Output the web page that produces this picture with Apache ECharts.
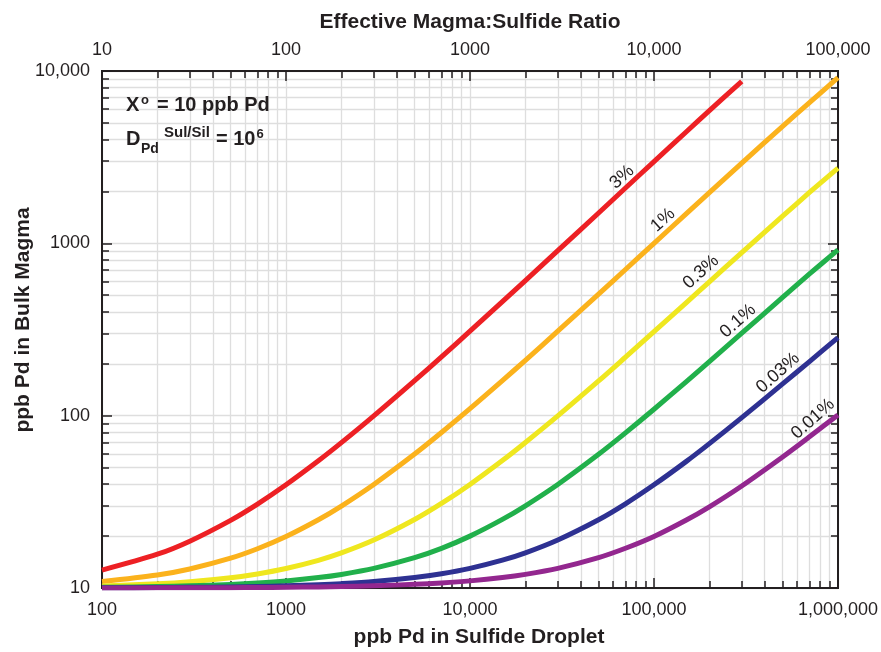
<!DOCTYPE html>
<html><head><meta charset="utf-8">
<script src="https://cdn.jsdelivr.net/npm/echarts@6/dist/echarts.min.js"></script>
<style>html,body{margin:0;padding:0;background:#fff}#c{width:881px;height:652px}</style>
</head><body><div id="c"></div>
<script>
// ---- data ----
const dropletPpb = [100,200,300,500,700,1000,1500,2000,3000,5000,7000,10000,15000,20000,30000,50000,70000,100000,150000,200000,300000,500000,700000,1000000];
const bulk3pct   = [12.7,15.7,18.7,24.7,30.7,39.7,54.7,69.7,99.7,159.7,219.5,309,459,608,907,1500,2095,2980,4440,5890,8700];
const bulk1pct   = [10.9,11.9,12.9,14.9,16.9,19.9,24.9,29.9,39.9,59.9,79.9,109.8,159.7,209.5,309,507,705,1000,1487,1970,2923,4770,6555,9150];
const bulk03pct  = [10.27,10.57,10.87,11.47,12.07,12.97,14.47,15.97,18.97,24.97,30.95,39.9,54.9,69.9,99.7,159,218.5,307,453,598,884,1438,1974,2735];
const bulk01pct  = [10.09,10.19,10.29,10.49,10.69,10.99,11.49,11.99,12.99,14.99,16.98,20,25,30,39.9,59.7,79.5,109,157.7,206,301,486,664,917];
const bulk003pct = [10.03,10.06,10.09,10.15,10.21,10.3,10.45,10.6,10.9,11.5,12.1,13,14.5,16,19,24.9,30.8,39.7,54.3,68.8,97.4,152.8,206,284];
const bulk001pct = [10.01,10.02,10.03,10.05,10.07,10.1,10.15,10.2,10.3,10.5,10.7,11,11.5,12,13,15,17,19.9,24.8,29.6,39.1,57.6,75.4,101];
const seriesNames = ['3%','1%','0.3%','0.1%','0.03%','0.01%'];
const seriesColors = ['#ed2024','#fbb21c','#efe71f','#21b04b','#2e3192','#93278f'];
const bottomTickLabels = ['100','1000','10,000','100,000','1,000,000'];
const topTickLabels = ['10','100','1000','10,000','100,000'];
const leftTickLabels = ['10','100','1000','10,000'];

// ---- chart ----
const FONT = "'Liberation Sans', Arial, Helvetica, sans-serif";
const INK = '#231f20';
function logTicks(lo, hi){ const out=[]; for(let d=lo; d<hi; d*=10){ for(let k=1;k<10;k++) out.push(d*k);} out.push(hi); return out; }
function decades(lo, hi){ const out=[]; for(let d=lo; d<=hi; d*=10) out.push(d); return out; }
function lab(arr, base){ return v => arr[Math.round(Math.log10(v)) - base] || ''; }

const allSeries = [bulk3pct,bulk1pct,bulk03pct,bulk01pct,bulk003pct,bulk001pct].map((vals,i)=>({
  type:'line', name:seriesNames[i], xAxisIndex:0, yAxisIndex:0,
  data: vals.map((v,j)=>[dropletPpb[j], v]),
  showSymbol:false, smooth:0.3, z:3+i,
  lineStyle:{color:seriesColors[i], width:5, cap:'butt', join:'round'}
}));

const tickStyle = {color:INK, width:1.5};
const axisLine = {show:true, onZero:false, lineStyle:{color:INK, width:2}};
function baseAxis(extra){ return Object.assign({type:'log', logBase:10, axisLine:axisLine}, extra); }

const option = {
  animation:false,
  backgroundColor:'#fff',
  grid:{left:102, right:38, top:71, bottom:64, containLabel:false},
  xAxis:[
    baseAxis({position:'bottom', min:100, max:1000000,
      axisTick:{inside:true, length:7, lineStyle:tickStyle, customValues:logTicks(100,1000000)},
      axisLabel:{margin:13, fontSize:18, fontFamily:FONT, color:INK, customValues:decades(100,1000000), formatter:lab(bottomTickLabels,2)},
      splitLine:{show:true, lineStyle:{color:'#dedede', width:1.3}}}),
    baseAxis({position:'bottom', min:100, max:1000000,
      axisTick:{inside:true, length:10, lineStyle:tickStyle, customValues:decades(100,1000000)},
      axisLabel:{show:false}, splitLine:{show:false}}),
    baseAxis({position:'top', min:10, max:100000,
      axisTick:{inside:true, length:7, lineStyle:tickStyle, customValues:logTicks(10,100000)},
      axisLabel:{margin:12, fontSize:18, fontFamily:FONT, color:INK, customValues:decades(10,100000), formatter:lab(topTickLabels,1)},
      splitLine:{show:false}}),
    baseAxis({position:'top', min:10, max:100000,
      axisTick:{inside:true, length:10, lineStyle:tickStyle, customValues:decades(10,100000)},
      axisLabel:{show:false}, splitLine:{show:false}})
  ],
  yAxis:[
    baseAxis({position:'left', min:10, max:10000,
      axisTick:{inside:true, length:7, lineStyle:tickStyle, customValues:logTicks(10,10000)},
      axisLabel:{margin:12, fontSize:18, fontFamily:FONT, color:INK, customValues:decades(10,10000), formatter:lab(leftTickLabels,1)},
      splitLine:{show:true, lineStyle:{color:'#dedede', width:1.3}}}),
    baseAxis({position:'left', min:10, max:10000,
      axisTick:{inside:true, length:10, lineStyle:tickStyle, customValues:decades(10,10000)},
      axisLabel:{show:false}, splitLine:{show:false}}),
    baseAxis({position:'right', min:10, max:10000,
      axisTick:{inside:true, length:7, lineStyle:tickStyle, customValues:logTicks(10,10000)},
      axisLabel:{show:false}, splitLine:{show:false}}),
    baseAxis({position:'right', min:10, max:10000,
      axisTick:{inside:true, length:10, lineStyle:tickStyle, customValues:decades(10,10000)},
      axisLabel:{show:false}, splitLine:{show:false}})
  ],
  series: allSeries
};

function txt(text, x, y, size, weight, opts){
  opts = opts || {};
  return {type:'text', x:x, y:y, rotation:opts.rot||0, z:100,
    style:{text:text, fill:INK, font:(weight||'normal')+' '+size+'px '+FONT,
      fontSize:size, fontWeight:weight||'normal', fontFamily:FONT,
      align:opts.align||'left', textAlign:opts.align||'left',
      verticalAlign:'middle', textVerticalAlign:'middle'}};
}
const curveLabelPos = [[622,177],[663,220],[701,272],[738,321],[778,373],[813,419]];
const rot = 42*Math.PI/180;
const graphics = [
  txt('Effective Magma:Sulfide Ratio', 470, 22, 21, 'bold', {align:'center'}),
  txt('ppb Pd in Sulfide Droplet', 479, 637, 21, 'bold', {align:'center'}),
  txt('ppb Pd in Bulk Magma', 23, 320, 21, 'bold', {align:'center', rot:Math.PI/2}),
  txt('X', 126, 105, 20, 'bold'),
  txt('o', 141, 100, 13, 'bold'),
  txt('= 10 ppb Pd', 157, 105, 20, 'bold'),
  txt('D', 126, 139, 20, 'bold'),
  txt('Pd', 141, 149.5, 14, 'bold'),
  txt('Sul/Sil', 164, 132.5, 15, 'bold'),
  txt('= 10', 216, 139, 20, 'bold'),
  txt('6', 256.5, 134, 13, 'bold')
];
seriesNames.forEach((n,i)=>graphics.push(txt(n, curveLabelPos[i][0], curveLabelPos[i][1], 18, 'normal', {align:'center', rot:rot})));
option.graphic = {elements: graphics};

const chart = echarts.init(document.getElementById('c'), null, {renderer:'canvas'});
chart.setOption(option);
</script></body></html>
